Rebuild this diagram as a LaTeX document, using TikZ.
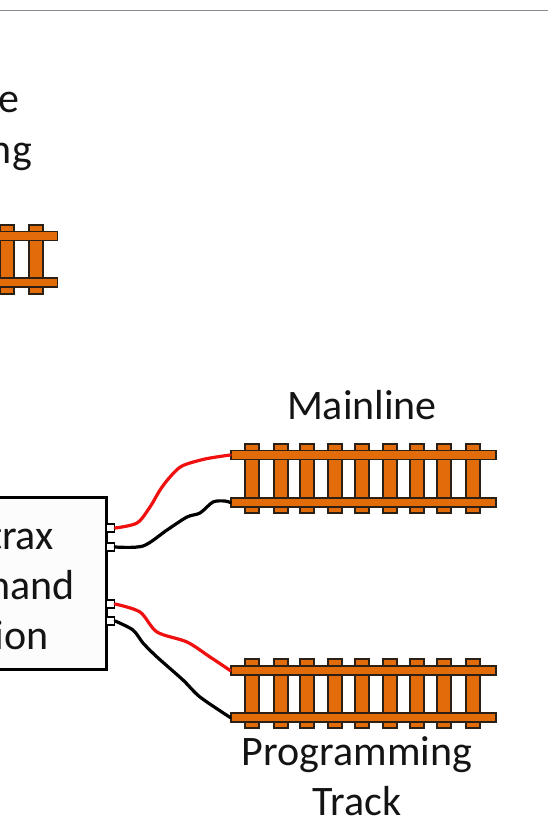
\documentclass[tikz,border=0pt]{standalone}
\usepackage{fontspec}
\setmainfont{Carlito}
\definecolor{trackorange}{HTML}{E36C0A}
\definecolor{trackedge}{HTML}{2A2015}
\definecolor{wirered}{HTML}{F01010}
\definecolor{topline}{HTML}{8A8A94}
\tikzset{
  tie/.style={draw=trackedge,line width=1.5pt,fill=trackorange,inner sep=0pt,minimum width=14pt,minimum height=69pt},
  rail/.style={draw=trackedge,line width=1.5pt,fill=trackorange,inner sep=0pt,minimum height=9pt},
  port/.style={draw=black,line width=1.2pt,fill=white,inner sep=0pt,minimum width=8pt,minimum height=8pt},
  wire/.style={line width=3.2pt,line cap=round,line join=round},
  label/.style={font=\fontsize{42}{42}\selectfont,text=black!92,inner sep=0pt}
}
\begin{document}
\begin{tikzpicture}[x=1pt,y=-1pt]
\useasboundingbox (0,0) rectangle (548,830);
\begin{scope}
\clip (0,0) rectangle (548,830);
\fill[white] (0,0) rectangle (548,830);
\node[draw=topline,line width=1pt,minimum width=560pt,minimum height=0pt,inner sep=0pt] (topbar) at (274,10.5) {};

% top fragment of text and track
\node[label,anchor=base east] (texte) at (20,112) {e};
\node[label,anchor=base east] (textng) at (32,163) {ng};
\foreach \n/\x in {a/7,b/36}{
  \node[tie] (toptie\n) at (\x,259.5) {};
}
\node[rail,minimum width=75pt] (toprailA) at (20,236) {};
\node[rail,minimum width=75pt] (toprailB) at (20,282.5) {};

% command station
\node[draw=black,line width=3pt,fill=white!99!black,minimum width=130pt,minimum height=172pt,inner sep=0pt] (station) at (41.5,583.5) {};
\node[label,anchor=base east] (trax) at (54,549) {trax};
\node[label,anchor=base east] (nand) at (75,599) {nand};
\node[label,anchor=base east] (ion) at (48.5,649) {ion};
\node[port] (p1) at (110.5,528) {};
\node[port] (p2) at (110.5,547) {};
\node[port] (p3) at (110.5,604) {};
\node[port] (p4) at (110.5,621) {};

% mainline
\foreach \n/\x in {a/252,b/281,c/307,d/335,e/362,f/390,g/417,h/444,i/473}{
  \node[tie] (mt\n) at (\x,478.5) {};
  \node[tie] (pt\n) at (\x,693.5) {};
}
\node[rail,minimum width=265pt] (mainA) at (363.5,455) {};
\node[rail,minimum width=265pt] (mainB) at (363.5,502.5) {};
\node[rail,minimum width=265pt] (progA) at (363.5,670.5) {};
\node[rail,minimum width=265pt] (progB) at (363.5,717.5) {};

\draw[wire,wirered] plot[smooth,tension=0.5] coordinates {(p1.east) (137,523) (150,507) (160,490) (170,477) (182,466) (205,459) (mainA.west)};
\draw[wire,black] plot[smooth,tension=0.5] coordinates {(p2.east) (143,546) (167,530) (187,517) (200,513) (213,502) (225,501) (mainB.west)};
\draw[wire,wirered] plot[smooth,tension=0.5] coordinates {(p3.east) (140,612) (157,632) (187,642) (210,657) (progA.west)};
\draw[wire,black] plot[smooth,tension=0.5] coordinates {(p4.east) (133,630) (143,643) (157,657) (183,680) (200,697) (progB.west)};

\node[label,anchor=base] (mainlabel) at (362,419.5) {Mainline};
\node[label,anchor=base] (proglabel) at (357,765) {Programming};
\node[label,anchor=base] (tracklabel) at (357,815.5) {Track};
\end{scope}
\end{tikzpicture}
\end{document}
